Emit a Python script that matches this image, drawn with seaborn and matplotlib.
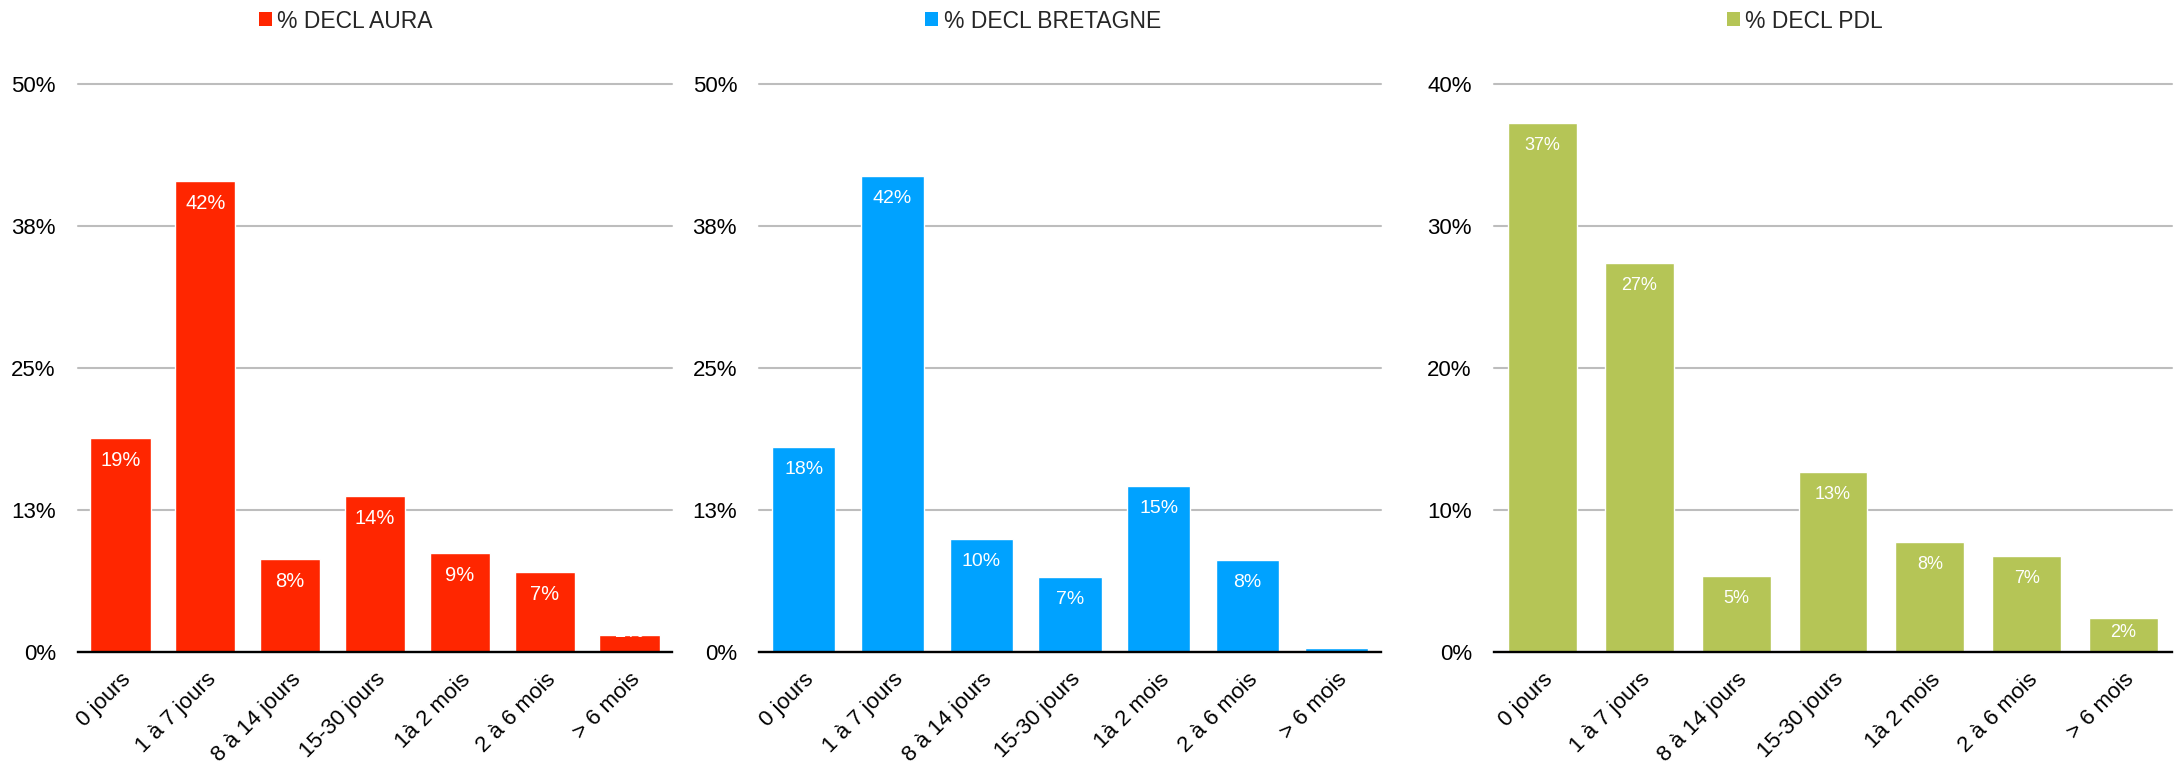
import matplotlib
matplotlib.use("Agg")
import matplotlib.pyplot as plt
import seaborn as sns
import pandas as pd
from matplotlib.patches import Patch

categories = ["0 jours", "1 à 7 jours", "8 à 14 jours", "15-30 jours",
              "1à 2 mois", "2 à 6 mois", "> 6 mois"]
aura = [18.9, 41.5, 8.2, 13.8, 8.7, 7.1, 1.5]
bretagne = [18.1, 41.9, 10.0, 6.6, 14.6, 8.1, 0.4]
pdl = [37.3, 27.4, 5.4, 12.7, 7.8, 6.8, 2.4]

series_names = ["% DECL AURA", "% DECL BRETAGNE", "% DECL PDL"]
colors = ["#FF2600", "#00A2FF", "#B5C556"]
yticks_ab = [0, 12.5, 25, 37.5, 50]
yticklabels_ab = ["0%", "13%", "25%", "38%", "50%"]
yticks_p = [0, 10, 20, 30, 40]
yticklabels_p = ["0%", "10%", "20%", "30%", "40%"]

sns.set_theme(style="white")
plt.rcParams["font.family"] = ["Liberation Sans", "DejaVu Sans"]

W, H = 2176, 768
fig = plt.figure(figsize=(W / 100, H / 100), dpi=100)

bottom_px, top_px = 652.3, 84.3
panels = [(78, 672), (759.3, 1380.7), (1494, 2172)]
legend_cx = [346, 1043, 1805]
label_sizes = [14.5, 14, 13]

data = [aura, bretagne, pdl]
ylims = [50, 50, 40]
ticks = [(yticks_ab, yticklabels_ab), (yticks_ab, yticklabels_ab), (yticks_p, yticklabels_p)]

for i in range(3):
    x0, x1 = panels[i]
    ax = fig.add_axes([x0 / W, 1 - bottom_px / H, (x1 - x0) / W, (bottom_px - top_px) / H])
    df = pd.DataFrame({"cat": categories, "val": data[i]})
    sns.barplot(data=df, x="cat", y="val", color=colors[i], width=0.71,
                saturation=1, ax=ax, zorder=3)
    ax.set_xlim(-0.5, 6.5)
    ax.set_ylim(0, ylims[i])
    ax.set_yticks(ticks[i][0])
    ax.set_yticklabels(ticks[i][1])
    ax.set_xlabel("")
    ax.set_ylabel("")
    ax.yaxis.grid(True, color="#bdbdbd", lw=1.5)
    ax.xaxis.grid(False)
    ax.set_axisbelow(True)
    for gl in ax.get_ygridlines():
        gl.set_clip_on(False)
    for s in ["top", "right", "left"]:
        ax.spines[s].set_visible(False)
    ax.spines["bottom"].set_color("black")
    ax.spines["bottom"].set_linewidth(1.7)
    ax.spines["bottom"].set_zorder(5)
    ax.tick_params(axis="y", length=0, pad=16, labelsize=16, labelcolor="black")
    ax.tick_params(axis="x", length=0, pad=12, labelsize=16, labelcolor="black")
    for lab in ax.get_xticklabels():
        lab.set_rotation(45)
        lab.set_ha("right")
        lab.set_va("top")
        lab.set_rotation_mode("anchor")

    px_per_unit = (bottom_px - top_px) / ylims[i]
    for j, v in enumerate(data[i]):
        if round(v) < 1:
            continue
        hpx = v * px_per_unit
        if hpx < 20:
            # label sits just above the short bar (white on white, as in reference)
            ax.annotate(f"{round(v)}%", xy=(j, v), xytext=(0, -1.5 * 0.72),
                        textcoords="offset points", ha="center", va="baseline",
                        color="white", fontsize=label_sizes[i], zorder=6)
        else:
            off = -min(22.5, hpx / 2 - 3)
            ax.annotate(f"{round(v)}%", xy=(j, v), xytext=(0, off * 0.72),
                        textcoords="offset points", ha="center", va="center",
                        color="white", fontsize=label_sizes[i], zorder=6)

    fig.legend(handles=[Patch(facecolor=colors[i], edgecolor="none")],
               labels=[series_names[i]], loc="center",
               bbox_to_anchor=(legend_cx[i] / W, 1 - 21 / H),
               bbox_transform=fig.transFigure, frameon=False, fontsize=16.5,
               handlelength=0.55, handleheight=0.55, handletextpad=0.25,
               borderpad=0, borderaxespad=0)

fig.savefig("out.png", dpi=100, facecolor="white")
